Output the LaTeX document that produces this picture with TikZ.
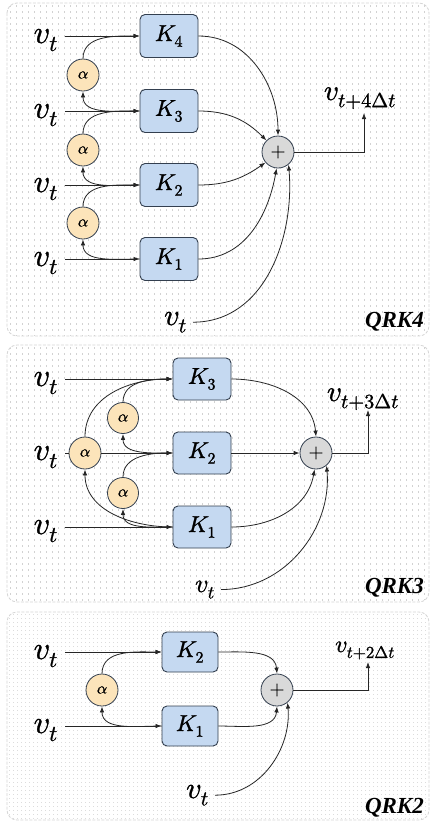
\documentclass[tikz,border=0pt]{standalone}
\usepackage{fontspec}
\usepackage{unicode-math}
\setmathfont{Latin Modern Math}[FakeBold=1.1]
\newfontfamily\qrkfont{Liberation Serif}
\usetikzlibrary{arrows.meta}
\definecolor{kblue}{HTML}{C5D9F1}
\definecolor{aorange}{HTML}{FCE4BA}
\definecolor{pgray}{HTML}{D9D9D9}
\definecolor{edgec}{HTML}{333F4F}
\definecolor{dotc}{HTML}{D2D2D2}
\definecolor{dotd}{HTML}{DCDCDC}
\definecolor{framec}{HTML}{D6D6D6}
\begin{document}
\begin{tikzpicture}[x=1pt,y=1pt,
 kbox/.style={draw=edgec, line width=0.9pt, fill=kblue, rounded corners=5pt, minimum width=58pt, minimum height=43pt, inner sep=0pt, font=\fontsize{23}{23}\selectfont},
 anode/.style={circle, draw=edgec, line width=0.8pt, fill=aorange, minimum size=32pt, inner sep=0pt, font=\fontsize{16}{16}\selectfont},
 pnode/.style={circle, draw=edgec, line width=0.8pt, fill=pgray, minimum size=32pt, inner sep=0pt, font=\fontsize{19}{19}\selectfont},
 vlab/.style={inner sep=1pt, font=\fontsize{32}{32}\selectfont},
 conn/.style={line width=0.8pt, draw=black!85},
 arr/.style={conn, -{Latex[length=6pt,width=4.5pt]}},
 qrk/.style={font=\qrkfont\bfseries\itshape\fontsize{23}{23}\selectfont, inner sep=0pt},
 panel/.style={draw=framec, line width=0.8pt, dash pattern=on 3pt off 1.5pt, rounded corners=10pt},
]
\useasboundingbox (0,0) rectangle (432,-823);
\fill[white] (0,0) rectangle (432,-823);

% ---------- panel backgrounds ----------
\begin{scope}
\clip[rounded corners=10pt] (7,-3) rectangle (429,-336);
\foreach \x in {10,16,...,428} \draw[dotc, line width=1pt, dash pattern=on 1.5pt off 4.5pt] (\x,-5) -- (\x,-336);
\end{scope}
\draw[panel] (7,-3) rectangle (429,-336);
\begin{scope}
\clip[rounded corners=10pt] (7,-345) rectangle (429,-602);
\foreach \x in {10,16,...,428} \draw[dotc, line width=1pt, dash pattern=on 1.5pt off 4.5pt] (\x,-347) -- (\x,-602);
\end{scope}
\draw[panel] (7,-345) rectangle (429,-602);
\begin{scope}
\clip[rounded corners=10pt] (7,-612) rectangle (429,-820);
\foreach \x in {9,13,...,428} \draw[dotd, line width=0.9pt, dash pattern=on 0.9pt off 3.1pt] (\x,-614) -- (\x,-820);
\end{scope}
\draw[panel] (7,-612) rectangle (429,-820);

% ---------- QRK4 ----------
\node[kbox] (A4) at (169,-36) {$K_4$};
\node[kbox] (A3) at (169,-111) {$K_3$};
\node[kbox] (A2) at (169,-185) {$K_2$};
\node[kbox] (A1) at (169,-259) {$K_1$};
\node[anode] (Aa1) at (83,-75) {$\alpha$};
\node[anode] (Aa2) at (83,-150) {$\alpha$};
\node[anode] (Aa3) at (83,-223) {$\alpha$};
\node[pnode] (Ap) at (278,-152) {$+$};
\node[vlab, anchor=base east] (Av4) at (59,-43) {$v_t$};
\node[vlab, anchor=base east] (Av3) at (59,-118) {$v_t$};
\node[vlab, anchor=base east] (Av2) at (59,-192) {$v_t$};
\node[vlab, anchor=base east] (Av1) at (59,-266) {$v_t$};
\node[vlab, anchor=base east, font=\fontsize{30}{30}\selectfont] (Avb) at (188,-325) {$v_t$};
\node[vlab, anchor=base, font=\fontsize{29}{29}\selectfont] (Aout) at (360,-100) {$v_{t+4\Delta t}$};
\coordinate (Ao) at (364,-113);
\node[qrk, anchor=base east] (Aq) at (424,-327) {QRK4};

\draw[arr] ([xshift=6pt]Av4.east |- A4.west) -- (A4.west);
\draw[arr] ([xshift=6pt]Av3.east |- A3.west) -- (A3.west);
\draw[arr] ([xshift=6pt]Av2.east |- A2.west) -- (A2.west);
\draw[arr] ([xshift=6pt]Av1.east |- A1.west) -- (A1.west);
\draw[arr] (Aa1.north) to[out=90,in=180] (A4.west);
\draw[arr] (A3.west) to[out=180,in=-90] (Aa1.south);
\draw[arr] (Aa2.north) to[out=90,in=180] (A3.west);
\draw[arr] (A2.west) to[out=180,in=-90] (Aa2.south);
\draw[arr] (Aa3.north) to[out=90,in=180] (A2.west);
\draw[arr] (A1.west) to[out=180,in=-90] (Aa3.south);
\draw[arr] (A4.east) to[out=0,in=90] (Ap.north);
\draw[arr] (A3.east) to[out=0,in=135] (Ap.135);
\draw[arr] (A2.east) to[out=0,in=-145] (Ap.-140);
\draw[arr] (A1.east) to[out=0,in=-100] (Ap.-95);
\draw[arr] ([xshift=5pt]Avb.east) to[out=0,in=-85] (Ap.-50);
\draw[arr] (Ap.east) -| (Ao);

% ---------- QRK3 ----------
\node[kbox, minimum height=42pt] (B3) at (202,-379) {$K_3$};
\node[kbox, minimum height=42pt] (B2) at (202,-453) {$K_2$};
\node[kbox, minimum height=42pt] (B1) at (202,-527) {$K_1$};
\node[anode] (Bab) at (85,-453) {$\alpha$};
\node[anode, minimum size=31pt] (Ba1) at (123,-418) {$\alpha$};
\node[anode, minimum size=31pt] (Ba2) at (123,-493) {$\alpha$};
\node[pnode] (Bp) at (316,-453) {$+$};
\node[vlab, anchor=base east] (Bv3) at (59,-386) {$v_t$};
\node[vlab, anchor=base east] (Bv2) at (59,-460) {$v_t$};
\node[vlab, anchor=base east] (Bv1) at (59,-534) {$v_t$};
\node[vlab, anchor=base east, font=\fontsize{26}{26}\selectfont] (Bvb) at (216,-592) {$v_t$};
\node[vlab, anchor=base, font=\fontsize{29}{29}\selectfont] (Bout) at (363,-401) {$v_{t+3\Delta t}$};
\coordinate (Bo) at (368,-410);
\node[qrk, anchor=base east] (Bq) at (424,-593) {QRK3};

\draw[arr] ([xshift=6pt]Bv3.east |- B3.west) -- (B3.west);
\draw[conn] ([xshift=6pt]Bv2.east |- Bab.west) -- (Bab.west);
\draw[arr] (Bab.east) -- (B2.west);
\draw[arr] ([xshift=6pt]Bv1.east |- B1.west) -- (B1.west);
\draw[arr] (Bab.north) to[out=90,in=180] (B3.west);
\draw[arr] (B1.west) to[out=180,in=-90] (Bab.south);
\draw[arr] (Ba1.north) to[out=90,in=180] (B3.west);
\draw[arr] (B2.west) to[out=180,in=-90] (Ba1.south);
\draw[arr] (Ba2.north) to[out=90,in=180] (B2.west);
\draw[arr] (B1.west) to[out=180,in=-90] (Ba2.south);
\draw[arr] (B3.east) to[out=0,in=95] (Bp.north);
\draw[arr] (B2.east) -- (Bp.west);
\draw[arr] (B1.east) to[out=0,in=-100] (Bp.-95);
\draw[arr] ([xshift=5pt]Bvb.east) to[out=0,in=-85] (Bp.-50);
\draw[arr] (Bp.east) -| (Bo);

% ---------- QRK2 ----------
\node[kbox, minimum width=56pt, minimum height=40pt] (C2) at (190,-652) {$K_2$};
\node[kbox, minimum width=56pt, minimum height=40pt] (C1) at (190,-726) {$K_1$};
\node[anode] (Ca) at (102,-690) {$\alpha$};
\node[pnode] (Cp) at (277,-690) {$+$};
\node[vlab, anchor=base east] (Cv2) at (59,-659) {$v_t$};
\node[vlab, anchor=base east] (Cv1) at (59,-733) {$v_t$};
\node[vlab, anchor=base east, font=\fontsize{30}{30}\selectfont] (Cvb) at (210,-798) {$v_t$};
\node[vlab, anchor=base, font=\fontsize{24}{24}\selectfont] (Cout) at (365,-652) {$v_{t+2\Delta t}$};
\coordinate (Co) at (368,-662);
\node[qrk, anchor=base east] (Cq) at (424,-813) {QRK2};

\draw[arr] ([xshift=6pt]Cv2.east |- C2.west) -- (C2.west);
\draw[arr] ([xshift=6pt]Cv1.east |- C1.west) -- (C1.west);
\draw[arr] (Ca.north) to[out=90,in=180] (C2.west);
\draw[arr] (C1.west) to[out=180,in=-90] (Ca.south);
\draw[arr] (C2.east) to[out=0,in=95] (Cp.north);
\draw[arr] (C1.east) to[out=0,in=-95] (Cp.south);
\draw[arr] ([xshift=5pt]Cvb.east) to[out=0,in=-85] (Cp.-50);
\draw[arr] (Cp.east) -| (Co);
\end{tikzpicture}
\end{document}
